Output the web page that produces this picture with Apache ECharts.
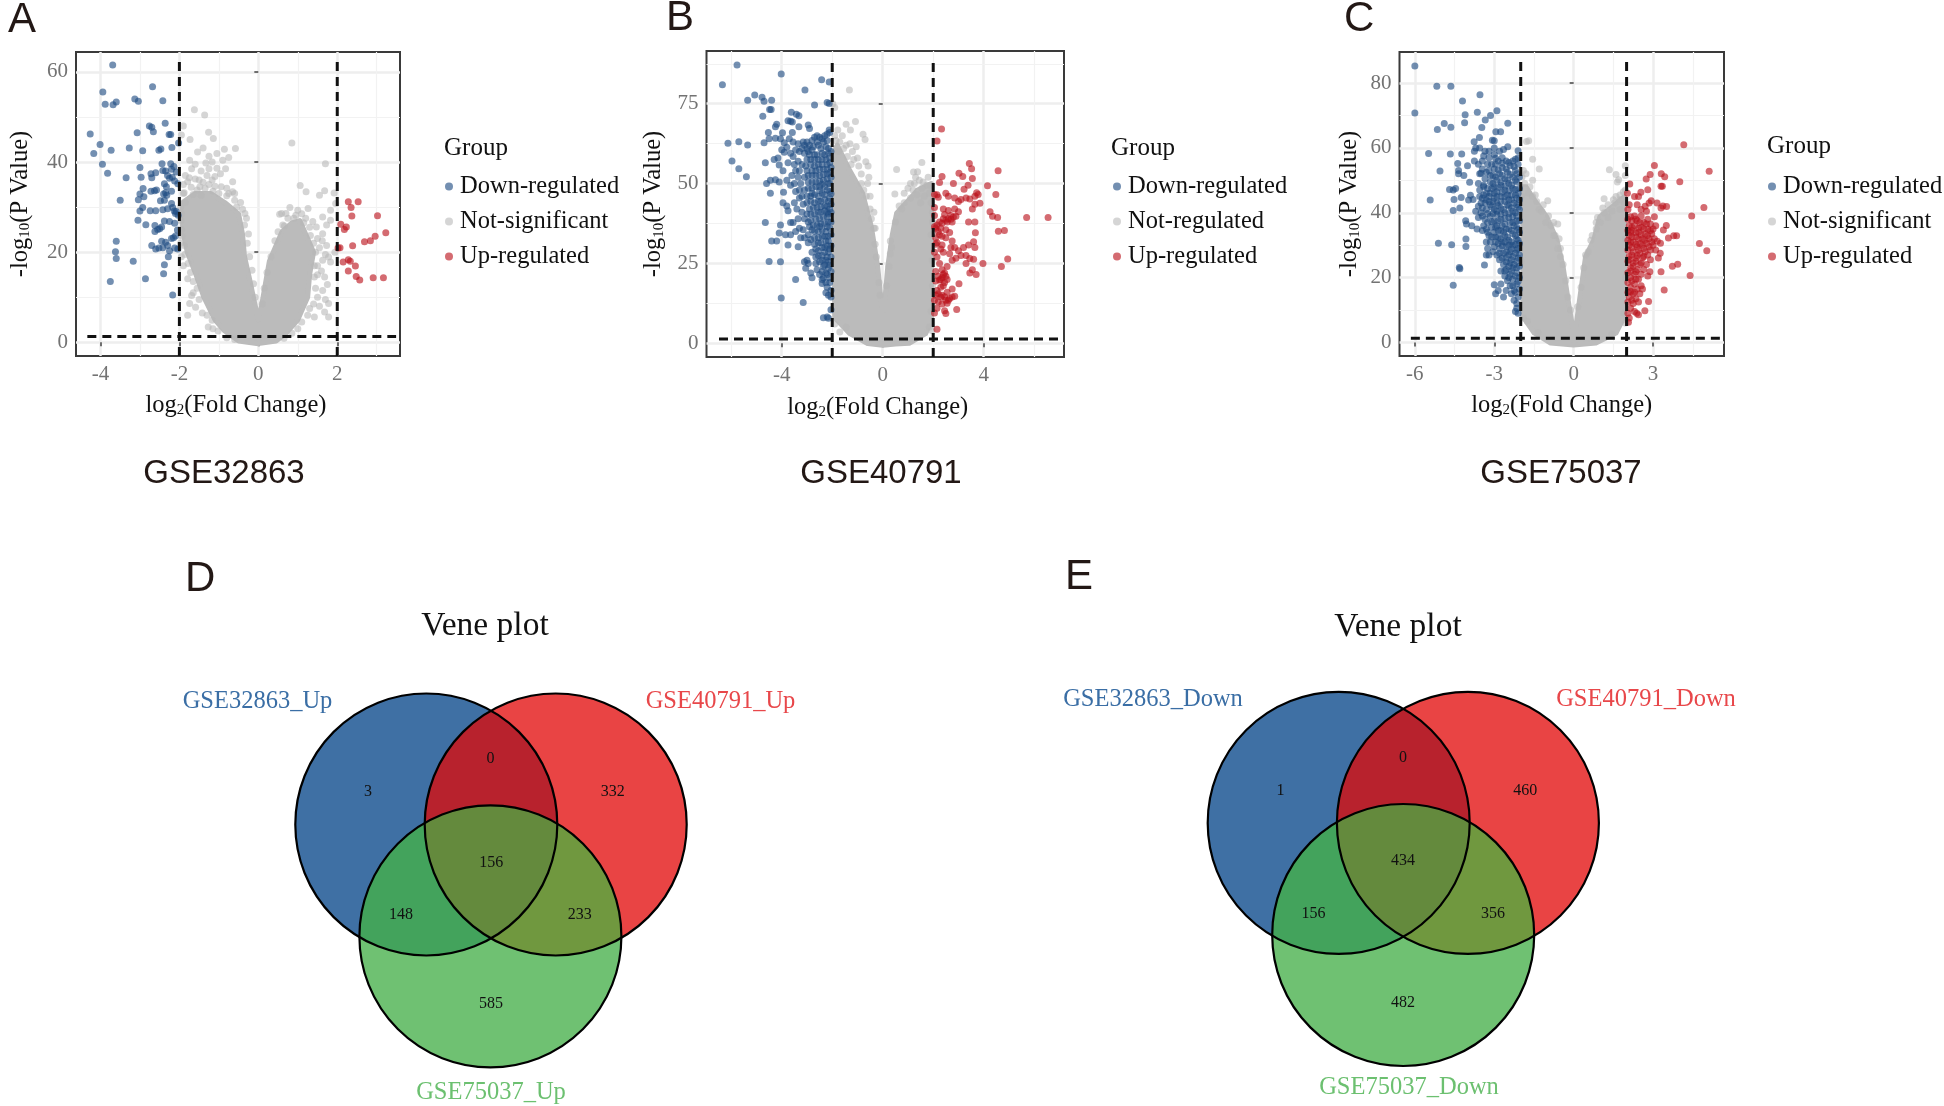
<!DOCTYPE html>
<html><head><meta charset="utf-8">
<script src="https://cdn.jsdelivr.net/npm/echarts@6/dist/echarts.min.js"></script>
<style>html,body{margin:0;padding:0;background:#fff}#c{width:1944px;height:1106px}</style>
</head><body><div id="c"></div>
<script>
// ---------- Panel A (GSE32863) ----------
const A_xTicks=[-4,-2,0,2], A_yTicks=[0,20,40,60];
const A_xMinor=[-3,-1,1,3], A_yMinor=[10,30,50];
const A_down=[[-3.69,61.5],[-2.68,56.7],[-3.94,55.5],[-3.88,52.8],[-3.68,52.7],[-3.6,53.3],[-3.13,54],[-3.04,53.5],[-2.42,53.6],[-2.36,48.6],[-2.76,48],[-2.7,47.7],[-2.66,46.7],[-3.07,46.5],[-4.26,46.2],[-2.26,46.1],[-2.22,46.1],[-4.01,43.9],[-4.17,41.9],[-3.73,42.6],[-3.27,43.1],[-2.93,42.5],[-2.52,42.6],[-2.47,42.9],[-2.19,43.2],[-2.02,44.2],[-3.95,39.5],[-3.82,37.5],[-3.35,36.5],[-3,38.8],[-2.97,36.6],[-2.72,37.4],[-2.7,36.5],[-2.6,37.6],[-2.44,39.6],[-2.35,38],[-2.22,39.6],[-2.2,38.4],[-2.14,39],[-2.42,38.1],[-2.3,37],[-2.25,36.4],[-2.18,36.6],[-2.12,35.8],[-2.08,37.8],[-2.04,35.2],[-2.38,35.2],[-2.33,34.5],[-2.2,33.5],[-2.92,34.1],[-2.72,33.5],[-2.63,33.6],[-2.58,33.8],[-2.4,32.9],[-2.35,33.2],[-2.32,32.6],[-3,32.9],[-2.9,32.3],[-3.04,31.6],[-3.5,31.5],[-2.38,31.5],[-2.48,31.4],[-2.2,30.8],[-2.17,29.9],[-2.13,29.1],[-2.08,29],[-2.1,28.6],[-2.03,28.2],[-2.3,29.6],[-2.42,29.4],[-2.6,29.2],[-2.74,29.2],[-2.93,29.9],[-3,29.1],[-3.05,27.1],[-2.85,26.1],[-2.62,25.9],[-2.45,25.6],[-2.5,25.2],[-2.38,26.9],[-2.25,26.8],[-2.12,26.4],[-2.62,24.6],[-2.55,25],[-2.05,24.9],[-2.1,23.6],[-2.2,23],[-2.15,23.2],[-2.35,22.2],[-2.45,22.4],[-2.3,21.5],[-2.6,20.7],[-2.7,21.5],[-2.52,20.9],[-2.42,21],[-2.25,20.3],[-2.12,20.9],[-2.04,20.7],[-3.6,22.4],[-3.62,20.1],[-3.6,18.6],[-3.17,18],[-2.28,19],[-2.38,17.2],[-2.4,15.2],[-3.75,13.5],[-2.86,14.1],[-2.17,10.5]];
const A_up=[[2.28,31.2],[2.53,31.2],[2.35,29.9],[3.02,28.1],[2.37,28],[2.09,26.2],[2.23,25.6],[2.18,25],[3.23,24.3],[2.96,23.5],[2.84,22.5],[2.69,22.3],[2.39,21.4],[2.07,21],[2.02,20.9],[2.28,18.3],[2.33,18],[2.15,17.8],[2.46,16.9],[2.28,15.8],[2.48,14.6],[2.57,13.8],[2.91,14.3],[3.17,14.3]];
const A_ns=[[-1.62,51.6],[-1.36,50.4],[-1.9,48],[-1.95,46],[-1.73,45],[-1.26,46.6],[-1.14,45.2],[-0.58,43],[-0.86,42.8],[0.85,44.2],[1.7,39.6],[-1.4,43.1],[-1.54,42.2],[-1.05,41.9],[-1.17,40],[-1.33,39.8],[-0.83,38.5],[-1.74,40.4],[-1.6,39.5],[-0.96,37.4],[-1.17,36],[-0.65,35.6],[-0.94,34.5],[-1.48,34.5],[-1.69,38.5],[-1.79,35.6],[-0.65,33.4],[1.06,34.8],[1.21,33.4],[1.68,33.6],[1.55,32.6],[1.92,33.1],[1.96,30.8],[0.8,29.9],[1.26,29.7],[1,29.3],[0.59,28.6],[0.54,28.4],[-0.34,28.6],[1.83,29.3],[1.63,27.8],[1.83,27.1],[1.47,25.6],[1.73,26],[1.63,24.1],[1.32,23.7],[1.73,21.5],[1.94,20],[1.78,18.9],[1.63,18.2],[1.83,17.8],[1.68,14.5],[1.42,14.5],[1.63,11.5],[1.78,8.6],[1.68,6.7],[1.78,5.6],[1.42,5.6],[-1.79,6],[-1.74,8.6],[-1.59,7.8],[-1.27,3.4],[-1.17,4.9],[-1.9,17],[-1.79,14.1],[-1.69,10.4],[-1.95,19],[-1.97,22],[-1.96,27],[-1.9,33],[-1.5,36],[-1.3,37],[-1.85,31],[-1.65,11],[-1.5,9.5],[-0.45,31],[-0.6,31.5],[-0.8,32.5],[1.45,20],[1.5,15],[1.5,10],[1.3,7.5],[0.9,27.5],[1.15,26.5]];
const A_nsDense=[[-1.85,37],[-1.75,36.5],[-1.6,36.2],[-1.4,35.5],[-1.25,35],[-1.1,34.6],[-0.8,34.2],[-1.9,35],[-1.7,34.4],[-1.55,33.8],[-1.35,34.2],[-1.15,33.5],[-1,33],[-0.75,33],[-0.6,33],[-1.88,33.2],[-1.65,32.8],[-1.45,32.6],[-1.25,38.5],[-1.45,38],[-1.05,38.6],[-0.9,40.4],[-0.75,41],[-1.25,41.3],[-1.1,36.8],[-0.55,30],[-0.4,29.5],[-0.3,27.5],[-0.35,26],[-0.25,24],[-0.28,22],[-0.22,19],[-0.16,16],[-0.12,13],[-0.08,10],[-1.97,30],[-1.95,28.5],[-1.95,25],[-1.93,23.5],[-1.88,21.5],[-1.86,19.5],[-1.78,17.5],[-1.72,15.5],[-1.65,13.5],[-1.55,12],[-1.42,6.5],[-1.3,6],[-1.15,3],[-1.02,2.5],[-0.8,1],[-0.6,0.6],[0.65,0.9],[0.85,2],[1,3],[1.1,4.5],[1.25,6],[1.4,8.5],[1.55,8],[1.45,12],[1.5,17],[1.42,17],[1.55,21],[1.4,22],[1.3,25.5],[1.5,23],[1.2,27.5],[1.1,28.5],[0.95,28.2],[0.75,27.5],[0.62,26],[0.5,24.5],[0.42,22.5],[0.32,19],[0.22,15.5],[0.15,12],[0.1,8.5],[0.66,25.8],[0.7,28.6],[1.38,26.8],[1.62,22.5],[1.7,19.5],[1.6,15.8],[1.7,9.5],[1.75,12.8]];
const A_core=[[0,-0.3],[-0.5,0.3],[-0.85,2.5],[-1.1,5],[-1.38,10],[-1.58,15],[-1.8,20],[-1.92,25],[-1.92,31],[-1.6,33],[-1.2,33],[-0.85,31],[-0.5,28.5],[-0.4,24],[-0.35,19],[-0.22,14],[-0.1,9],[0,5],[0.08,8],[0.18,13],[0.28,18],[0.45,21.5],[0.6,24.5],[0.85,26.5],[1.05,27],[1.2,24],[1.4,20],[1.3,15],[1.25,10],[1,5],[0.7,2],[0.45,0.3]];
const A_vTop=62.8;
// ---------- Panel B (GSE40791) ----------
const B_xTicks=[-4,0,4], B_yTicks=[0,25,50,75];
const B_xMinor=[-6,-2,2,6], B_yMinor=[12.5,37.5,62.5,87.5];
const B_down=[[-5.77,87.1],[-4.02,84.3],[-6.35,80.9],[-3.08,79.3],[-2.42,82.5],[-2.12,81.8],[-5.07,77.7],[-4.78,77],[-5.35,76.1],[-4.7,75.8],[-4.4,76.1],[-2.7,74.6],[-2.12,75.1],[-2.2,75.4],[-4.48,73.2],[-4.42,73.2],[-4.75,71.1],[-3.62,72.3],[-3.42,71.7],[-3.32,71.2],[-3.75,69.7],[-3.58,69.3],[-3.65,69.5],[-4.2,68.6],[-4.25,67.8],[-2.95,68.3],[-3.32,67.8],[-2.9,67.2],[-3.58,66],[-4.53,66],[-3.97,65.9],[-2.12,66.8],[-6.13,62.6],[-5.7,63.1],[-5.35,62.1],[-4.7,62.8],[-4.5,64],[-4.25,64.2],[-4.05,64],[-3.9,62.8],[-3.7,64],[-3.55,63],[-3.8,61.4],[-4,60.6],[-3.9,59.8],[-3.65,59.5],[-4.15,58],[-4.3,57.5],[-4.65,56.5],[-4.1,55.8],[-5.97,57.1],[-5.7,54.6],[-5.4,52.1],[-4.6,50],[-4.45,51],[-4.25,51.2],[-4.1,50.5],[-3.8,51],[-4.45,47],[-3.93,47.3],[-3.95,44],[-3.8,43],[-3.75,41.5],[-3.5,44],[-4.65,37.8],[-4.05,37],[-3.65,37.8],[-3.55,37.8],[-4.1,34.5],[-3.85,34],[-3.65,34],[-4.4,32],[-4.2,32],[-3.75,30.8],[-3.35,30.2],[-4.5,25.6],[-4.05,25.5],[-3.45,20],[-4.02,14.2],[-3.15,12.8],[-3.1,25.5],[-3,26],[-3.05,23.5],[-2.85,22],[-2.95,25],[-2.6,23],[-2.4,20],[-2.4,18.7],[-2.25,19],[-2.25,15.8],[-2.15,15],[-2.05,14.5],[-2.05,10.5],[-2.2,8.2],[-2.35,8],[-2.15,7.8],
[-2.1,66],[-2.3,65],[-2.5,64.5],[-2.7,64.5],[-2.35,63],[-2.2,63.5],[-2.6,63],[-2.9,62],[-3.1,62],[-3.2,61],[-3,61],[-2.8,60.5],[-2.15,61],[-2.45,61],[-2.05,60],[-3.3,60],[-3.1,59.5],[-2.9,59],[-2.6,59],[-2.3,59],[-2.1,58],[-2.4,57.5],[-2.7,57.5],[-3,57.5],[-3.35,57],[-3.5,56],[-3.2,56],[-2.85,56],[-2.55,56],[-2.2,56],[-2.05,55],[-2.35,54.5],[-2.65,54],[-3,54],[-3.3,54],[-3.1,52],[-2.8,52.5],[-2.5,52.5],[-2.2,53],[-2.05,52],[-2.35,51],[-2.65,50.5],[-2.95,50.5],[-3.25,50],[-3.5,50],[-2.1,50],[-2.3,49],[-2.5,49],[-2.8,48.5],[-3.1,48],[-2.1,47.5],[-2.4,47],[-2.7,46.5],[-3,46],[-3.3,45.5],[-2.1,45.5],[-2.3,45],[-2.55,44.5],[-2.85,44.5],[-3.15,43.5],[-2.05,43.5],[-2.3,43],[-2.6,42.5],[-2.9,42],[-3,40.5],[-2.7,40.5],[-2.45,41],[-2.2,41],[-2.05,41],[-2.2,39.5],[-2.5,39],[-2.85,38.5],[-3.1,39],[-2.05,38],[-2.3,37.5],[-2.6,37],[-2.9,36.5],[-3.15,35.5],[-2.1,36],[-2.4,35.5],[-2.7,35],[-2.95,34],[-2.05,34],[-2.3,33.5],[-2.55,33],[-2.85,32.5],[-3.1,33],[-2.15,32],[-2.45,31.5],[-2.7,31],[-2.05,30.5],[-2.3,30],[-2.55,29],[-2.8,28.5],[-2.15,28.5],[-2.4,27.5],[-2.65,27],[-2.05,27],[-2.25,26],[-2.5,25.5],[-2.1,24.5],[-2.35,24],[-2.05,22.5],[-2.25,22],[-2.5,21.5],[-2.1,20.5],[-2.8,20.5],[-2.65,25]];
const B_downDense=[[-2.2,65.5],[-2.4,64],[-2.6,65],[-2.8,63.5],[-3,63],[-3.15,63],[-2.25,61.5],[-2.55,62],[-2.75,61.5],[-2.95,60],[-2.15,59.5],[-2.4,59.5],[-2.7,59],[-2.25,57.5],[-2.55,57.5],[-2.85,57.5],[-2.1,56.5],[-2.4,56],[-2.7,55.5],[-3.05,55.5],[-2.2,54.5],[-2.5,54.5],[-2.8,54],[-2.1,53.5],[-2.35,52.8],[-2.65,52.5],[-2.95,52.5],[-2.2,51.5],[-2.5,50.8],[-2.8,50.5],[-2.15,50],[-2.4,49.8],[-2.65,49],[-2.95,48.5],[-2.2,48],[-2.5,47.8],[-2.8,47],[-2.05,46.8],[-2.3,46.5],[-2.55,46],[-2.85,46],[-2.15,44.5],[-2.45,44.5],[-2.7,44],[-3,44],[-2.2,43],[-2.45,42.7],[-2.75,42.5],[-2.1,42],[-2.3,41.5],[-2.55,41],[-2.85,40.5],[-2.15,40.5],[-2.35,39.5],[-2.65,39],[-2.95,38],[-2.15,38],[-2.45,37.5],[-2.75,37],[-2.2,36.5],[-2.5,36.5],[-2.8,35.5],[-2.25,35],[-2.55,35],[-2.15,33.5],[-2.4,33.5],[-2.7,33],[-2.95,31.5],[-2.25,32],[-2.55,31.5],[-2.2,30.5],[-2.4,30],[-2.65,29.5],[-2.1,29.5],[-2.3,28.5],[-2.55,27.5],[-2.2,27],[-2.4,26],[-2.15,25.5],[-2.3,24.5],[-2.15,23.5],[-2.4,22.5],[-2.2,21.5],[-2.35,20.5],[-2.1,19],[-2.2,17.5],[-2.05,16.5],[-3.3,48],[-3.45,47.5],[-3.2,46],[-3.4,42],[-3.2,41],[-3.35,39],[-3.3,36],[-3.45,35],[-3.25,33],[-3.35,62.5],[-3.45,60.5],[-3.55,58.5],[-3.45,54],[-3.6,52.5],[-3.35,52],[-3.65,49.5],[-3.75,56.5],[-3.95,54]];
const B_up=[[2.33,67.1],[2.15,63.3],[3.43,56.3],[4.57,54],[3.52,54.6],[3.02,53.2],[3.17,52.2],[2.35,52.2],[3.55,51.6],[2.25,50.3],[2.8,50],[3.38,49.5],[4.15,49.3],[3.22,48.2],[4.48,46.6],[3.72,47.1],[3.78,46.6],[3.65,46],[2.05,46.6],[2.15,46.5],[2.5,47],[2.6,46],[2.85,45.5],[3.3,45.5],[3.45,45.2],[3.1,45],[3,44.4],[3.85,43.8],[3.65,43.5],[2.2,45.7],[3.55,42],[2.05,42.5],[2.4,42],[2.6,41.6],[2.85,42],[3,41.2],[4.25,41.2],[4.35,39.8],[4.55,39.4],[5.7,39.4],[6.55,39.4],[2.05,40],[2.45,40.3],[2.7,40],[2.8,39.5],[2.6,39],[2.9,39.8],[2.5,38.5],[2.35,37.6],[2.15,37],[2.75,38],[3.4,38],[3.65,38],[2.05,36.5],[2.3,36],[2.5,35.5],[2.65,34.7],[4.58,35.1],[4.82,35.3],[3.67,34.6],[2.25,34],[2.1,33],[2.5,33],[2.75,32],[3.6,31.8],[3.4,30.8],[3.65,30],[2.1,31],[2.35,30.8],[2.7,30],[2.85,30],[3.2,30],[3,29],[2.05,28.5],[2.4,28.5],[2.65,28],[3.3,27.5],[3.1,27.5],[2.9,26.6],[2.75,26],[3.45,26.5],[3.6,26.3],[4.95,26.4],[3.3,25],[3.97,25],[4.7,24],[2.25,25],[2.55,24],[2.35,23],[2.4,21.5],[3.55,23],[3.45,22],[3.7,21.5],[2.1,22.5],[2.2,21],[2.35,20.5],[2.55,20],[2.25,19.8],[2.45,19],[2.1,19.5],[3.02,18.6],[2.3,17.5],[2.55,16],[2.15,16.5],[2.75,17],[2.1,15],[2.3,14.5],[2.45,14.6],[2.75,14.5],[2.85,14.7],[2.6,13.5],[2.2,13],[2.05,13.5],[2.35,12.3],[2.55,12.5],[2.65,14],[2.15,11],[2.45,10.2],[2.93,10.6],[2.05,9.5],[2.5,9.3],[2.15,4.4],
[2.1,36],[2.25,38],[2.4,39],[2.55,38],[2.7,38.8],[2.2,35],[2.35,33.5],[2.15,31.5],[2.3,29.5],[2.15,27],[2.45,22],[2.3,20],[2.5,21],[2.4,18],[2.2,15.5],[2.35,15],[2.5,13.5]];
const B_ns=[[-1.32,79.3],[-1.9,73.8],[-1.98,75],[-1.45,68.6],[-1.08,69.4],[-1.28,66.8],[-0.78,65.4],[-0.7,63.8],[-1.78,66.8],[-1.85,63.5],[-1.6,65],[-1.3,62.5],[-1.05,61.5],[-1.45,62],[-1.2,60],[-0.67,56.8],[-0.58,55.5],[-1,58],[-0.55,52],[-0.6,50],[-0.85,53],[-0.5,46],[-0.35,41],[0.55,54.4],[1.38,53.7],[1.22,53.6],[1.55,56.6],[0.48,46.7],[1.25,50],[1.2,48],[1.75,49.5],[1.9,49.5],[1.55,48.5],[1.35,46.5],[1.1,45.5],[0.85,44],[1.65,46],[1.85,47],[1.92,44],[1.97,41],[0.75,42],[1.5,44],[1.98,38],[1.92,34],[1.96,26],[1.97,18],[1.92,10],[1.85,5],[1.95,4],[-1.9,6],[-1.7,3.5],[-1.45,5],[-0.3,36],[0.3,32],[0.35,30],
[-1.9,65],[-1.7,63],[-1.55,61],[-1.75,60],[-1.4,58.5],[-1.15,57.5],[-0.95,55.5],[-1.25,56],[-0.85,50],[-0.75,48],[-0.65,46],[-0.5,42],[-0.45,39],[-0.35,36],[-0.3,31],[-0.25,27],[-0.15,19],[-0.1,15],[0.15,18],[0.25,24],[0.3,28],[0.5,38],[0.65,43],[0.85,47],[1,48.5],[1.45,51],[1.6,50.5],[1.8,52],[1.3,52],[1.1,50]];
const B_core=[[0,-0.6],[-0.6,-0.1],[-1.3,3],[-1.9,8],[-1.93,60],[-1.8,62],[-1.3,54],[-0.8,47],[-0.45,36.5],[-0.2,24],[-0.03,10.4],[0.05,10.4],[0.2,24],[0.38,34],[0.55,40.7],[1.05,45],[1.38,48],[1.93,50],[1.93,7.3],[1.7,3],[1.05,0],[0.5,-0.2]];
const B_vTop=88.8;
// ---------- Panel C (GSE75037) ----------
const C_xTicks=[-6,-3,0,3], C_yTicks=[0,20,40,60,80];
const C_xMinor=[-4.5,-1.5,1.5,4.5], C_yMinor=[10,30,50,70];
const C_down=[[-6,85.3],[-6,70.8],[-5.17,79],[-4.64,79],[-4.2,74.5],[-3.54,76.4],[-4.1,70.2],[-3.64,71],[-2.9,71.5],[-3.14,70],[-3.34,68.6],[-4.12,67.8],[-2.49,67.6],[-4.89,67.5],[-5.15,65.7],[-4.64,66.4],[-3.47,66.3],[-2.94,65],[-2.76,65],[-3.56,63.2],[-3.76,61.9],[-3.07,62.4],[-3.0,62.2],[-5.48,58.3],[-4.66,58.1],[-4.23,58.1],[-2.1,59.1],[-2.49,60.4],[-3.7,60],[-3.55,60],[-3.2,59],[-3.35,59],[-3,60],[-2.8,59],[-2.65,59.5],[-3,58],[-3.75,59],[-5.05,52.9],[-4.38,55.2],[-4.01,54.5],[-4.35,53],[-4.35,52],[-4.15,51.5],[-3.93,49.4],[-3.75,56],[-3.6,55],[-3.45,56],[-3.25,55],[-3.55,52],[-3.5,52.2],[-4.69,47.2],[-4.55,47],[-4.46,47.5],[-5.42,43.9],[-4.52,44.1],[-4.25,44.7],[-3.97,43.9],[-3.8,44.1],[-3.9,45.4],[-4.55,40.7],[-4.3,41.5],[-4.08,37.5],[-4.05,36.5],[-3.85,36],[-3.7,40.5],[-3.6,38.5],[-3.65,35],[-3.45,34.5],[-3.5,40],[-5.11,30.6],[-4.61,30.1],[-4.07,31.9],[-4.07,29.6],[-4.32,23.1],[-4.3,22.7],[-4.55,17.6],[-3.37,23.9],[-3.3,31],[-3.25,29],[-3.2,27],[-3.05,28],[-3.3,27],[-3.4,36],[-3.35,38],[-2.75,18],[-2.95,15],[-3,17.8],[-2.85,16],[-2.65,14],[-2.55,16],[-2.35,15],[-2.25,13],[-2.2,9.5],[-2.15,10.5],[-2.1,9],
[-2.1,57],[-2.3,56],[-2.55,56],[-2.85,56],[-3.1,55],[-2.1,55],[-2.4,54.5],[-2.7,54],[-3,53.5],[-3.2,53],[-2.2,53],[-2.5,52.5],[-2.8,52],[-3.05,51.5],[-3.35,50.5],[-2.05,51],[-2.3,51],[-2.6,50.5],[-2.9,50],[-3.15,49.5],[-3.4,48],[-2.15,49.5],[-2.45,49],[-2.75,48.5],[-3,48],[-3.25,47.5],[-3.55,47],[-2.05,47.5],[-2.3,47.5],[-2.6,47],[-2.9,46.5],[-3.15,46],[-3.4,45.5],[-2.2,45.5],[-2.5,45.5],[-2.75,45],[-3,44.5],[-3.3,44],[-2.05,44],[-2.35,44],[-2.6,43.5],[-2.9,43],[-3.15,42.5],[-3.5,43],[-2.15,42.5],[-2.45,42],[-2.75,41.5],[-3,41],[-3.3,41],[-3.6,42],[-2.05,41],[-2.3,40.5],[-2.6,40],[-2.9,39.5],[-3.15,39],[-2.15,39],[-2.45,38.5],[-2.75,38],[-3,37.5],[-3.25,37],[-2.05,37.5],[-2.3,37],[-2.6,36.5],[-2.9,36],[-3.1,35.5],[-2.15,35.5],[-2.45,35],[-2.75,34.5],[-3,34],[-3.25,34],[-2.05,34],[-2.3,33.5],[-2.6,33],[-2.85,32.5],[-3.1,32.5],[-2.15,32],[-2.45,31.5],[-2.7,31],[-2.95,31],[-2.05,30.5],[-2.3,30],[-2.55,29.5],[-2.8,29],[-3,29.5],[-2.15,28.5],[-2.4,28],[-2.65,27.5],[-2.9,27],[-2.05,27],[-2.3,26.5],[-2.55,26],[-2.8,25.5],[-2.15,25],[-2.4,24.5],[-2.65,24],[-2.05,23.5],[-2.3,23],[-2.55,22.5],[-2.75,22],[-2.15,21.5],[-2.4,21],[-2.6,20.5],[-2.05,20],[-2.3,19.5],[-2.5,19],[-2.15,18],[-2.4,17.5],[-2.05,16.5],[-2.25,16],[-2.1,14],[-2.15,12]];
const C_downDense=[[-2.2,56.5],[-2.45,55.5],[-2.7,55.3],[-2.95,55],[-2.25,54.3],[-2.55,53.5],[-2.85,53.2],[-2.15,52],[-2.4,51.8],[-2.7,51.5],[-2.95,51],[-3.15,51.5],[-2.2,50],[-2.5,50],[-2.75,49.5],[-3.05,49],[-2.35,48.5],[-2.6,48.2],[-2.85,47.8],[-3.1,47.5],[-2.2,47.2],[-2.45,46.8],[-2.7,46.3],[-3,46],[-2.1,46],[-2.35,45.5],[-2.6,45],[-2.9,45],[-3.2,45],[-2.15,44.5],[-2.45,44],[-2.75,43.5],[-3.05,43.5],[-2.25,43],[-2.5,42.5],[-2.85,42.2],[-3.1,41.8],[-2.1,41.8],[-2.35,41.5],[-2.65,41],[-2.9,40.5],[-2.2,40],[-2.45,39.8],[-2.75,39.5],[-3.05,39.8],[-2.3,38.8],[-2.6,38.2],[-2.85,37.5],[-3.1,37.2],[-2.15,37.5],[-2.4,37],[-2.7,36],[-2.95,35.5],[-2.25,36],[-2.55,35],[-2.85,34.5],[-2.1,34.8],[-2.35,34.5],[-2.65,34],[-2.2,33],[-2.5,32.5],[-2.75,32],[-2.95,32.5],[-2.1,31.5],[-2.35,31],[-2.6,31],[-2.85,30.5],[-2.2,30.2],[-2.45,30],[-2.7,29.8],[-2.1,29],[-2.35,28.8],[-2.55,28],[-2.8,27.5],[-2.2,27.5],[-2.45,27],[-2.7,26],[-2.1,26],[-2.35,25.5],[-2.55,24.8],[-2.25,24],[-2.45,23.5],[-2.15,23],[-2.35,22],[-2.6,22],[-2.2,20.5],[-2.45,20],[-2.1,18.8],[-2.3,17.5],[-2.2,15.5],[-3.3,46],[-3.45,44.5],[-3.55,45],[-3.35,43],[-3.2,43.5],[-3.45,41.5],[-3.25,39.8],[-3.45,39],[-3.3,35],[-3.15,31],[-3.2,33],[-3.4,48.5],[-3.6,49],[-3.3,52.5],[-3.45,53.5],[-3.2,57],[-3.4,57.5],[-2.95,56.8],[-2.7,57]];
const C_up=[[4.16,61],[3.05,54.6],[5.12,52.8],[2.89,51.8],[3.31,52],[3.44,51.1],[2.74,50.4],[4.01,49.6],[2.12,48.9],[3.35,48.2],[3.3,48.2],[2.8,47.1],[2.54,46.3],[2.03,46],[2.3,45],[2.45,45],[2.93,43.7],[2.85,43],[3.15,43],[3.37,42.1],[3.51,41.9],[3.3,41.5],[4.92,41.6],[4.46,39],[2.4,42.5],[2.1,42.5],[2.05,41],[2.7,42],[2.55,41],[2.75,40.5],[3.05,38.8],[2.3,39],[2.55,39],[2.8,38],[3.5,36.1],[3.39,34.7],[3.78,32.9],[3.89,32.9],[3.58,32.2],[3.16,31.2],[3.28,30.6],[4.75,30.5],[5.03,28.3],[3.27,27.5],[3.93,24.1],[3.73,23.5],[4.4,20.6],[3.3,21.8],[2.88,21.8],[3.42,16.2],[2.83,12.6],[2.69,9.8],[2.38,9],[2.07,6.2],[2.05,38],[2.2,37.5],[2.4,37.5],[2.65,37],[2.9,36.5],[3.1,36],[2.1,36],[2.3,36],[2.55,35.5],[2.8,35],[3,35],[2.05,34.5],[2.2,34.5],[2.45,34],[2.7,33.5],[2.95,33.5],[2.1,33],[2.35,32.5],[2.6,32],[2.85,32],[3.05,32],[2.05,31.5],[2.25,31],[2.5,30.5],[2.75,30.5],[3,30],[2.1,30],[2.4,29.5],[2.65,29],[2.9,28.5],[3.1,28.5],[2.05,28.5],[2.25,28],[2.5,27.5],[2.8,27],[3.2,26],[2.1,26.5],[2.35,26],[2.6,26],[2.9,25.5],[2.05,25],[2.25,24.5],[2.55,24.5],[2.75,24],[2.15,23],[2.4,22.5],[2.65,22.5],[2.05,21.5],[2.3,21],[2.55,21],[2.8,20.5],[2.15,20],[2.45,19.5],[2.05,18.5],[2.3,18],[2.55,17.5],[2.15,17],[2.4,16.5],[2.6,16.5],[2.05,15.5],[2.25,15],[2.5,15],[2.1,14],[2.35,13.5],[2.05,12.5],[2.25,12],[2.45,12.5],[2.15,10.5],[2.3,9.5],[2.45,8.5],[2.05,9],[2.1,7.5],
[2.15,38.8],[2.35,38],[2.5,37],[2.75,36.5],[2.2,35.5],[2.45,35.2],[2.65,35],[2.9,34.5],[2.15,34],[2.35,33.8],[2.55,33.2],[2.8,33],[2.2,32.5],[2.45,31.8],[2.7,31.5],[2.95,31],[2.15,31],[2.35,30.2],[2.6,30],[2.85,29.5],[2.2,29.2],[2.45,28.5],[2.7,28],[2.2,27],[2.4,26.8],[2.65,26.5],[2.1,25.5],[2.35,25],[2.5,24],[2.25,23.5],[2.15,22],[2.35,21.8],[2.2,19],[2.35,19.5],[2.15,15.8],[2.3,15.5],[2.2,13]];
const C_ns=[[-1.78,62],[-1.7,62.2],[-1.55,56.5],[-1.3,53.5],[-1.9,53],[-1.95,51],[-1.8,52],[-1.55,50],[-1.65,48],[-1.45,45.5],[-0.98,43.7],[-1.15,42.5],[-1.3,41],[-0.95,39],[-0.75,37],[-0.6,36.5],[-0.7,33],[-0.55,32],[-0.5,29],[1.35,53.3],[1.6,51.8],[1.7,50.2],[1.65,49.5],[1.95,54.5],[1.95,51.5],[1.75,45.5],[1.15,44.3],[1.5,44],[1.55,43],[1.75,41],[1.15,40],[0.9,38.5],[0.85,37],[1.3,38.5],[0.65,31.5],[0.45,27],[1.95,47],[1.93,43],[1.96,32],[1.97,20],[1.9,9],[1.95,6],[1.45,2.5],[-1.75,6.5],[-1.9,7.5],[-1.35,3],[-1.97,45],[-1.98,25],
[-1.85,49],[-1.7,46],[-1.55,45],[-1.4,43.5],[-1.2,40.5],[-1.05,37],[-0.85,36],[-0.75,33],[-0.6,29],[-0.5,26.5],[-0.4,24],[-0.3,19],[-0.22,14],[-0.12,10],[0.15,11],[0.28,17],[0.38,23],[0.55,28],[0.7,33],[0.85,35],[1,37],[1.1,41.5],[1.3,42.5],[1.45,40.5],[1.6,45],[1.75,44],[1.88,46.5]];
const C_core=[[0,-0.8],[-0.87,-0.2],[-1.49,2.9],[-1.92,8],[-1.92,48],[-1.8,48],[-1.49,44],[-1.02,38.8],[-0.63,31.6],[-0.4,23.4],[-0.17,11],[-0.03,4.4],[0.09,5],[0.22,13],[0.45,26.5],[0.76,31.6],[0.99,38.8],[1.46,41.9],[1.92,45],[1.92,8],[1.6,2.9],[0.84,-0.2]];
const C_vTop=87;
// ---------- Thresholds, labels ----------
const fcCut=[-2,2], pCut=1.3;
const groupsAC=["Down-regulated","Not-significant","Up-regulated"];
const groupsB=["Down-regulated","Not-regulated","Up-regulated"];
const datasetNames=["GSE32863","GSE40791","GSE75037"];
// ---------- Venn counts: A, B, C, AB, AC, BC, ABC ----------
const vennUpSets=["GSE32863_Up","GSE40791_Up","GSE75037_Up"];
const vennUpCounts=[3,332,585,0,148,233,156];
const vennDownSets=["GSE32863_Down","GSE40791_Down","GSE75037_Down"];
const vennDownCounts=[1,460,482,0,156,356,434];

const BLUE='rgba(30,76,130,0.78)',GREY='rgba(183,183,183,0.72)',RED='rgba(186,18,28,0.78)';
const SERIF='"Liberation Serif"',SANS='"Liberation Sans"';
const panels=[
 {l:76,t:52,r:400,b:356,xr:[-4.62,3.59],yr:[-3.04,64.4],xt:A_xTicks,yt:A_yTicks,xm:A_xMinor,ym:A_yMinor,d:A_down,u:A_up,n:A_ns.concat(A_nsDense),core:A_core,vt:A_vTop,g:groupsAC,
  lx:444,xGap:37,yGap:43,legL:440,legTop:169,gT:148,name:0,nx:224,xShift:4,letter:['A',8,20]},
 {l:706.5,t:51,r:1064,b:357,xr:[-6.98,7.18],yr:[-4.3,91.5],xt:B_xTicks,yt:B_yTicks,xm:B_xMinor,ym:B_yMinor,d:B_down.concat(B_downDense),u:B_up,n:B_ns,core:B_core,vt:B_vTop,g:groupsB,
  lx:1111,xGap:38,yGap:40,legL:1108,legTop:169,gT:148,name:1,nx:881,xShift:15,letter:['B',666,18]},
 {l:1399.5,t:52,r:1724,b:356,xr:[-6.58,5.68],yr:[-4.2,89.6],xt:C_xTicks,yt:C_yTicks,xm:C_xMinor,ym:C_yMinor,d:C_down.concat(C_downDense),u:C_up,n:C_ns,core:C_core,vt:C_vTop,g:groupsAC,
  lx:1767,xGap:37,yGap:37,legL:1763,legTop:169,gT:146,name:2,nx:1561,xShift:0,letter:['C',1344,19]}
];
const grid=[],xAxis=[],yAxis=[],series=[],legend=[],graphic=[];
const nameRich={a:{fontFamily:SERIF,fontSize:24.5,color:'#111'},s:{fontFamily:SERIF,fontSize:15,color:'#111',verticalAlign:'bottom',padding:[10,0,0,0]}};
panels.forEach((p,i)=>{
  grid.push({left:p.l,top:p.t,width:p.r-p.l,height:p.b-p.t,show:true,backgroundColor:'#fff',borderColor:'#3a3a3a',borderWidth:2});
  const common={type:'value',axisLine:{show:false},
    axisTick:{show:true,length:4,lineStyle:{color:'#444',width:1.5}},
    splitLine:{show:true,lineStyle:{color:'#eeeeee',width:2.5}},minorSplitLine:{show:false},
    axisLabel:{fontFamily:SERIF,fontSize:21,color:'#737373',margin:8},nameLocation:'middle'};
  xAxis.push(Object.assign({},common,{gridIndex:i,min:p.xr[0],max:p.xr[1],position:'bottom',
    axisTick:Object.assign({},common.axisTick,{customValues:p.xt}),axisLabel:Object.assign({},common.axisLabel,{customValues:p.xt,showMinLabel:true,showMaxLabel:true}),
    name:'{a|log}{s|2}{a|(Fold Change)}',nameGap:p.xGap,nameTextStyle:{rich:nameRich,padding:[0,p.xShift,0,0]}}));
  yAxis.push(Object.assign({},common,{gridIndex:i,min:p.yr[0],max:p.yr[1],position:'left',
    axisTick:Object.assign({},common.axisTick,{customValues:p.yt}),axisLabel:Object.assign({},common.axisLabel,{customValues:p.yt}),
    name:'{a|-log}{s|10}{a|(P Value)}',nameGap:p.yGap,nameTextStyle:{rich:nameRich}}));
  series.push({type:'line',name:'minor'+i,xAxisIndex:i,yAxisIndex:i,data:[],silent:true,z:1,
    markLine:{silent:true,symbol:'none',z:1,label:{show:false},animation:false,
      lineStyle:{color:'#f2f2f2',width:1.2,type:'solid'},
      data:p.xm.filter(v=>v>p.xr[0]&&v<p.xr[1]).map(v=>({xAxis:v})).concat(p.ym.filter(v=>v>p.yr[0]&&v<p.yr[1]).map(v=>({yAxis:v})))}});
  series.push({type:'custom',name:'core'+i,xAxisIndex:i,yAxisIndex:i,silent:true,z:2,data:p.core,
    encode:{x:0,y:1},clip:true,renderItem:(params,api)=>{
      if(params.dataIndex!==0)return null;
      return {type:'polygon',shape:{points:p.core.map(c=>api.coord(c))},
        style:{fill:'#bbbbbb',stroke:'#bbbbbb',lineWidth:5,lineJoin:'round'}};
    }});
  const sc=(name,data,color,z)=>({type:'scatter',name,xAxisIndex:i,yAxisIndex:i,data,symbolSize:7,z,silent:true,
    itemStyle:{color,borderWidth:0},emphasis:{disabled:true}});
  series.push(sc(p.g[1],p.n,GREY,3),sc(p.g[0],p.d,BLUE,4),sc(p.g[2],p.u,RED,4));
  const dash={color:'#111',width:3,type:[9,6]};
  const ln=(data)=>({type:'line',name:'cut'+i,xAxisIndex:i,yAxisIndex:i,data,symbol:'none',lineStyle:dash,z:6,silent:true});
  series.push(ln([[fcCut[0],p.yr[0]],[fcCut[0],p.vt]]),ln([[fcCut[1],p.yr[0]],[fcCut[1],p.vt]]),ln([[p.xr[0]+0.35*(p.xr[1]-p.xr[0])/10,pCut],[p.xr[1]-0.12*(p.xr[1]-p.xr[0])/10,pCut]]));
  legend.push({orient:'vertical',left:p.legL,top:p.legTop,data:p.g,icon:'circle',itemWidth:8,itemHeight:8,itemGap:10,selectedMode:false,
    textStyle:{fontFamily:SERIF,fontSize:24.5,color:'#111',lineHeight:20,padding:[0,0,0,2]},itemStyle:{borderWidth:0}});
  graphic.push({type:'text',x:p.lx,y:p.gT,style:{text:'Group',font:'25px '+SERIF,fill:'#111',align:'left',verticalAlign:'middle'}});
  graphic.push({type:'text',x:p.nx,y:474,style:{text:datasetNames[p.name],font:'33px '+SANS,fill:'#231815',align:'center',verticalAlign:'middle'}});
  graphic.push({type:'text',x:p.letter[1],y:p.letter[2],style:{text:p.letter[0],font:'42px '+SANS,fill:'#231815',align:'left',verticalAlign:'middle'}});
});
function venn(c,counts){
  const R=131,[B,Rd,G]=c.centers;
  const circ=(k)=>({cx:k[0],cy:k[1],r:R});
  const fills=['#3f70a4','#e94444','#6fc172','#b8222d','#43a35c','#70983f','#648a3d'];
  return {type:'custom',coordinateSystem:'none',name:c.id,silent:true,z:5,data:counts.map(v=>[v]),
    renderItem:(params,api)=>{
      const i=params.dataIndex,val=String(api.value(0)),ch=[];
      const shape=i===0?[B]:i===1||i===3?[Rd]:[G];
      const clip={3:B,4:B,5:Rd}[i];
      if(i<=5){ch.push(Object.assign({type:'circle',shape:circ(shape[0]),style:{fill:fills[i]}},clip?{clipPath:{type:'circle',shape:circ(clip)}}:{}));}
      else{ch.push({type:'group',clipPath:{type:'circle',shape:circ(B)},children:[{type:'circle',shape:circ(G),clipPath:{type:'circle',shape:circ(Rd)},style:{fill:fills[6]}}]});
        [B,Rd,G].forEach(k=>ch.push({type:'circle',shape:circ(k),style:{fill:'none',stroke:'#000',lineWidth:2.2},z2:20}));}
      ch.push({type:'text',x:c.labels[i][0],y:c.labels[i][1],z2:30,style:{text:val,font:'16px '+SERIF,fill:'#111',align:'center',verticalAlign:'middle'}});
      return {type:'group',children:ch};
    }};
}
series.push(venn({id:'vennUp',centers:[[426.3,824.5],[555.7,824.5],[490.4,936.4]],
 labels:[[368,792],[612.7,792],[490.9,1003.8],[490.4,758.7],[401,914.6],[579.8,914.6],[491.3,862.3]]},vennUpCounts));
series.push(venn({id:'vennDown',centers:[[1338.7,822.9],[1467.9,822.9],[1403.2,935]],
 labels:[[1280.6,790.8],[1525.3,790.8],[1403,1002.4],[1403,757.6],[1313.6,913.6],[1493,913.6],[1403,861]]},vennDownCounts));
const T=(text,x,y,font,fill,align)=>({type:'text',x,y,z:10,style:{text,font,fill,align:align||'center',verticalAlign:'middle'}});
graphic.push(T('D',185,579,'42px '+SANS,'#231815','left'),T('E',1065,577,'42px '+SANS,'#231815','left'),
 T('Vene plot',485,626,'33.5px '+SERIF,'#111'),T('Vene plot',1398,627,'33.5px '+SERIF,'#111'),
 T(vennUpSets[0],257.5,701.5,'24.5px '+SERIF,'#3a6ea5'),T(vennUpSets[1],720.5,701.5,'24.5px '+SERIF,'#e8474a'),T(vennUpSets[2],491,1092.5,'24.5px '+SERIF,'#6cc070'),
 T(vennDownSets[0],1153,700,'24.5px '+SERIF,'#3a6ea5'),T(vennDownSets[1],1646,700,'24.5px '+SERIF,'#e8474a'),T(vennDownSets[2],1409,1088,'24.5px '+SERIF,'#6cc070'));
const chart=echarts.init(document.getElementById('c'),null,{renderer:'canvas'});
chart.setOption({animation:false,backgroundColor:'#fff',grid,xAxis,yAxis,series,legend,graphic});
</script></body></html>
